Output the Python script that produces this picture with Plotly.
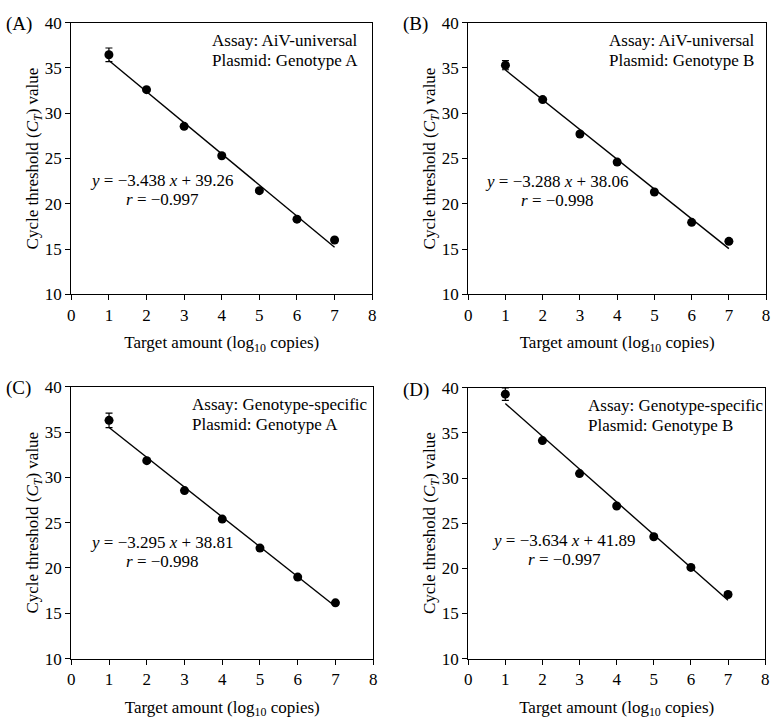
import plotly.graph_objects as go

x_log = [1, 2, 3, 4, 5, 6, 7]

ct_A = [36.45, 32.6, 28.55, 25.3, 21.45, 18.3, 16.0]
ct_B = [35.3, 31.5, 27.7, 24.6, 21.3, 17.95, 15.85]
ct_C = [36.3, 31.85, 28.55, 25.4, 22.2, 19.0, 16.15]
ct_D = [39.3, 34.15, 30.5, 26.9, 23.5, 20.1, 17.1]

err_A = [0.75, 0.2, 0.2, 0.2, 0.2, 0.2, 0.2]
err_B = [0.5, 0.2, 0.2, 0.2, 0.2, 0.2, 0.2]
err_C = [0.8, 0.2, 0.2, 0.2, 0.2, 0.2, 0.2]
err_D = [0.7, 0.2, 0.2, 0.2, 0.2, 0.2, 0.2]

slopes = [-3.438, -3.288, -3.295, -3.634]
intercepts = [39.26, 38.06, 38.81, 41.89]
r_values = ["−0.997", "−0.998", "−0.998", "−0.997"]
eq_texts = ["−3.438", "−3.288", "−3.295", "−3.634"]
int_texts = ["39.26", "38.06", "38.81", "41.89"]
assays = ["AiV-universal", "AiV-universal", "Genotype-specific", "Genotype-specific"]
plasmids = ["Genotype A", "Genotype B", "Genotype A", "Genotype B"]
panel_labels = ["(A)", "(B)", "(C)", "(D)"]

x_ticks = [0, 1, 2, 3, 4, 5, 6, 7, 8]
y_ticks = [10, 15, 20, 25, 30, 35, 40]

W, H = 782, 727
# pixel boxes for each panel: left, right, top, bottom
boxes = [(68, 372, 14, 293), (469, 770, 14, 293), (68, 373, 388, 667), (469, 769, 389, 667)]
label_pos = [(15, 15), (416, 15), (15, 389), (416, 391)]
# annotation anchor positions in data units (info box x, equation centre x, equation y)
info_x = [3.68, 3.72, 3.15, 3.17]
eq_x = [2.42, 2.39, 2.41, 2.59]
eq_y = [22.6, 22.5, 22.85, 23.05]

FONT = "Liberation Serif, Times New Roman, serif"
FS = 17

series = [ct_A, ct_B, ct_C, ct_D]
errs = [err_A, err_B, err_C, err_D]

fig = go.Figure()
layout = dict(width=W, height=H, margin=dict(l=0, r=0, t=0, b=0),
              paper_bgcolor="white", plot_bgcolor="white", showlegend=False,
              font=dict(family=FONT, size=FS, color="black"))
annotations = []

for i in range(4):
    xa = "x" if i == 0 else f"x{i+1}"
    ya = "y" if i == 0 else f"y{i+1}"
    l, r, t, b = boxes[i]
    axis_common = dict(showgrid=False, zeroline=False, showline=True, linecolor="black",
                       linewidth=1.3, mirror=True, ticks="outside", ticklen=5,
                       tickwidth=1.3, tickcolor="black",
                       tickfont=dict(family=FONT, size=FS, color="black"))
    layout["xaxis" if i == 0 else f"xaxis{i+1}"] = dict(
        axis_common, domain=[l / W, r / W], range=[0, 8], tickvals=x_ticks,
        anchor=ya,
        title=dict(text="Target amount (log<sub>10</sub> copies)",
                   font=dict(family=FONT, size=FS, color="black"), standoff=12))
    layout["yaxis" if i == 0 else f"yaxis{i+1}"] = dict(
        axis_common, domain=[1 - b / H, 1 - t / H], range=[10, 40], tickvals=y_ticks,
        anchor=xa,
        title=dict(text="Cycle threshold (<i>C<sub>T</sub></i>) value",
                   font=dict(family=FONT, size=FS, color="black"), standoff=0))

    fig.add_trace(go.Scatter(
        x=[1, 7], y=[slopes[i] * 1 + intercepts[i], slopes[i] * 7 + intercepts[i]],
        mode="lines", line=dict(color="black", width=1.4), xaxis=xa, yaxis=ya))
    fig.add_trace(go.Scatter(
        x=x_log, y=series[i], mode="markers",
        marker=dict(color="black", size=9),
        error_y=dict(type="data", array=errs[i], color="black", thickness=1.2, width=3.5),
        xaxis=xa, yaxis=ya))

    annotations.append(dict(xref=xa, yref=ya, x=info_x[i], y=38.05, xanchor="left", yanchor="middle",
                            text=f"Assay: {assays[i]}", showarrow=False,
                            font=dict(family=FONT, size=FS)))
    annotations.append(dict(xref=xa, yref=ya, x=info_x[i], y=35.85, xanchor="left", yanchor="middle",
                            text=f"Plasmid: {plasmids[i]}", showarrow=False,
                            font=dict(family=FONT, size=FS)))
    annotations.append(dict(xref=xa, yref=ya, x=eq_x[i], y=eq_y[i], xanchor="center", yanchor="middle",
                            text=f"<i>y</i> = {eq_texts[i]} <i>x</i> + {int_texts[i]}",
                            showarrow=False, font=dict(family=FONT, size=FS)))
    annotations.append(dict(xref=xa, yref=ya, x=eq_x[i], y=eq_y[i] - 2.1, xanchor="center", yanchor="middle",
                            text=f"<i>r</i> = {r_values[i]}",
                            showarrow=False, font=dict(family=FONT, size=FS)))
    lx, ly = label_pos[i]
    annotations.append(dict(xref="paper", yref="paper", x=lx / W, y=1 - ly / H,
                            xanchor="center", yanchor="middle", text=panel_labels[i],
                            showarrow=False, font=dict(family=FONT, size=19)))

layout["annotations"] = annotations
fig.update_layout(**layout)
fig.write_html("out.html", config={"displayModeBar": False},
               post_script="document.body.style.margin='0';document.body.style.overflow='hidden';")
